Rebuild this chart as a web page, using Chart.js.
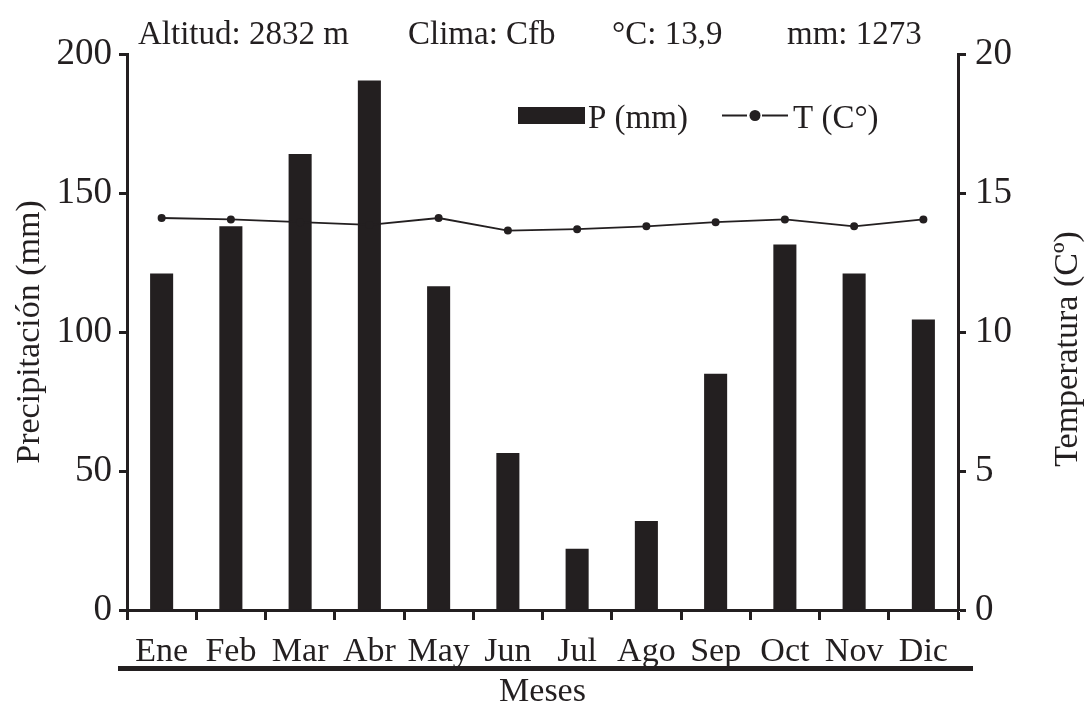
<!DOCTYPE html>
<html>
<head>
<meta charset="utf-8">
<script src="https://cdn.jsdelivr.net/npm/chart.js@4/dist/chart.umd.min.js"></script>
<style>
html,body{margin:0;padding:0;background:#fff;}
canvas{display:block;}
</style>
</head>
<body>
<canvas id="c" width="1087" height="709"></canvas>
<script>
const months = ["Ene","Feb","Mar","Abr","May","Jun","Jul","Ago","Sep","Oct","Nov","Dic"];
const precipitation = [121, 138, 164, 190.5, 116.5, 56.5, 22, 32, 85, 131.5, 121, 104.5];
const temperature = [14.1, 14.05, 13.95, 13.85, 14.1, 13.65, 13.7, 13.8, 13.95, 14.05, 13.8, 14.05];
const headerTexts = ["Altitud: 2832 m", "Clima: Cfb", "°C: 13,9", "mm: 1273"];
const legendLabels = ["P (mm)", "T (C°)"];
const precipTicks = [0, 50, 100, 150, 200];
const tempTicks = [0, 5, 10, 15, 20];
const rightTitle = "Temperatura (Cº)";

const INK = "#231f20";
const FONT = "'Liberation Serif', 'Times New Roman', serif";

const decor = {
  id: "decor",
  afterDraw(chart) {
    const ctx = chart.ctx;
    ctx.save();
    ctx.fillStyle = INK;
    ctx.strokeStyle = INK;
    // header
    ctx.font = "33px " + FONT;
    ctx.textBaseline = "alphabetic";
    ctx.textAlign = "left";
    const hx = [138, 408, 612, 787];
    headerTexts.forEach((t, i) => ctx.fillText(t, hx[i], 44));
    // legend
    ctx.font = "33px " + FONT;
    ctx.fillRect(518, 107, 67, 17);
    ctx.fillText(legendLabels[0], 588, 128);
    ctx.lineWidth = 2;
    ctx.beginPath();
    ctx.moveTo(722, 115.5); ctx.lineTo(747, 115.5);
    ctx.moveTo(762, 115.5); ctx.lineTo(788, 115.5);
    ctx.stroke();
    ctx.beginPath();
    ctx.arc(755, 115.5, 5.5, 0, Math.PI * 2);
    ctx.fill();
    ctx.fillText(legendLabels[1], 793, 128);
    // right axis title, reading bottom-to-top
    ctx.save();
    ctx.translate(1068, 349);
    ctx.rotate(-Math.PI / 2);
    ctx.font = "34px " + FONT;
    ctx.textAlign = "center";
    ctx.textBaseline = "middle";
    ctx.fillText(rightTitle, 0, 0);
    ctx.restore();
    // thick rule under month labels
    ctx.fillRect(118, 666, 855, 5);
    ctx.restore();
  }
};

new Chart(document.getElementById("c"), {
  type: "bar",
  data: {
    labels: months,
    datasets: [
      {
        type: "line",
        label: legendLabels[1],
        data: temperature,
        yAxisID: "yT",
        borderColor: INK,
        borderWidth: 1.8,
        pointRadius: 4,
        pointBackgroundColor: INK,
        pointBorderColor: INK,
        pointBorderWidth: 0,
        tension: 0,
        order: 0
      },
      {
        type: "bar",
        label: legendLabels[0],
        data: precipitation,
        yAxisID: "yP",
        backgroundColor: INK,
        borderWidth: 0,
        categoryPercentage: 1,
        barPercentage: 0.333,
        order: 1
      }
    ]
  },
  plugins: [decor],
  options: {
    responsive: false,
    animation: false,
    devicePixelRatio: 1,
    layout: { padding: { top: 54, left: 0, right: 0, bottom: 0 } },
    plugins: { legend: { display: false }, tooltip: { enabled: false }, title: { display: false } },
    scales: {
      x: {
        position: "bottom",
        offset: true,
        grid: { display: true, offset: true, drawOnChartArea: false, drawTicks: true, tickLength: 10, tickWidth: 3, tickColor: INK },
        border: { display: true, color: INK, width: 3 },
        ticks: { color: INK, font: { family: FONT, size: 34 }, padding: 12, maxRotation: 0, autoSkip: false },
        title: { display: true, text: "Meses", color: INK, font: { family: FONT, size: 34, lineHeight: 1 }, padding: { top: 0, bottom: 0 } },
        afterFit(s) { s.height = 99; }
      },
      yP: {
        position: "left",
        min: 0, max: 200,
        afterBuildTicks(s) { s.ticks = precipTicks.map(v => ({ value: v })); },
        grid: { display: true, drawOnChartArea: false, drawTicks: true, tickLength: 8, tickWidth: 3, tickColor: INK },
        border: { display: true, color: INK, width: 3 },
        ticks: { color: INK, font: { family: FONT, size: 37 }, padding: 7 },
        title: { display: true, text: "Precipitación (mm)", color: INK, font: { family: FONT, size: 34, lineHeight: 1 }, padding: { top: 13, bottom: 0 } },
        afterFit(s) { s.width = 127; }
      },
      yT: {
        position: "right",
        min: 0, max: 20,
        afterBuildTicks(s) { s.ticks = tempTicks.map(v => ({ value: v })); },
        grid: { display: true, drawOnChartArea: false, drawTicks: true, tickLength: 8, tickWidth: 3, tickColor: INK },
        border: { display: true, color: INK, width: 3 },
        ticks: { color: INK, font: { family: FONT, size: 37 }, padding: 9 },
        title: { display: false },
        afterFit(s) { s.width = 129; }
      }
    }
  }
});
</script>
</body>
</html>
